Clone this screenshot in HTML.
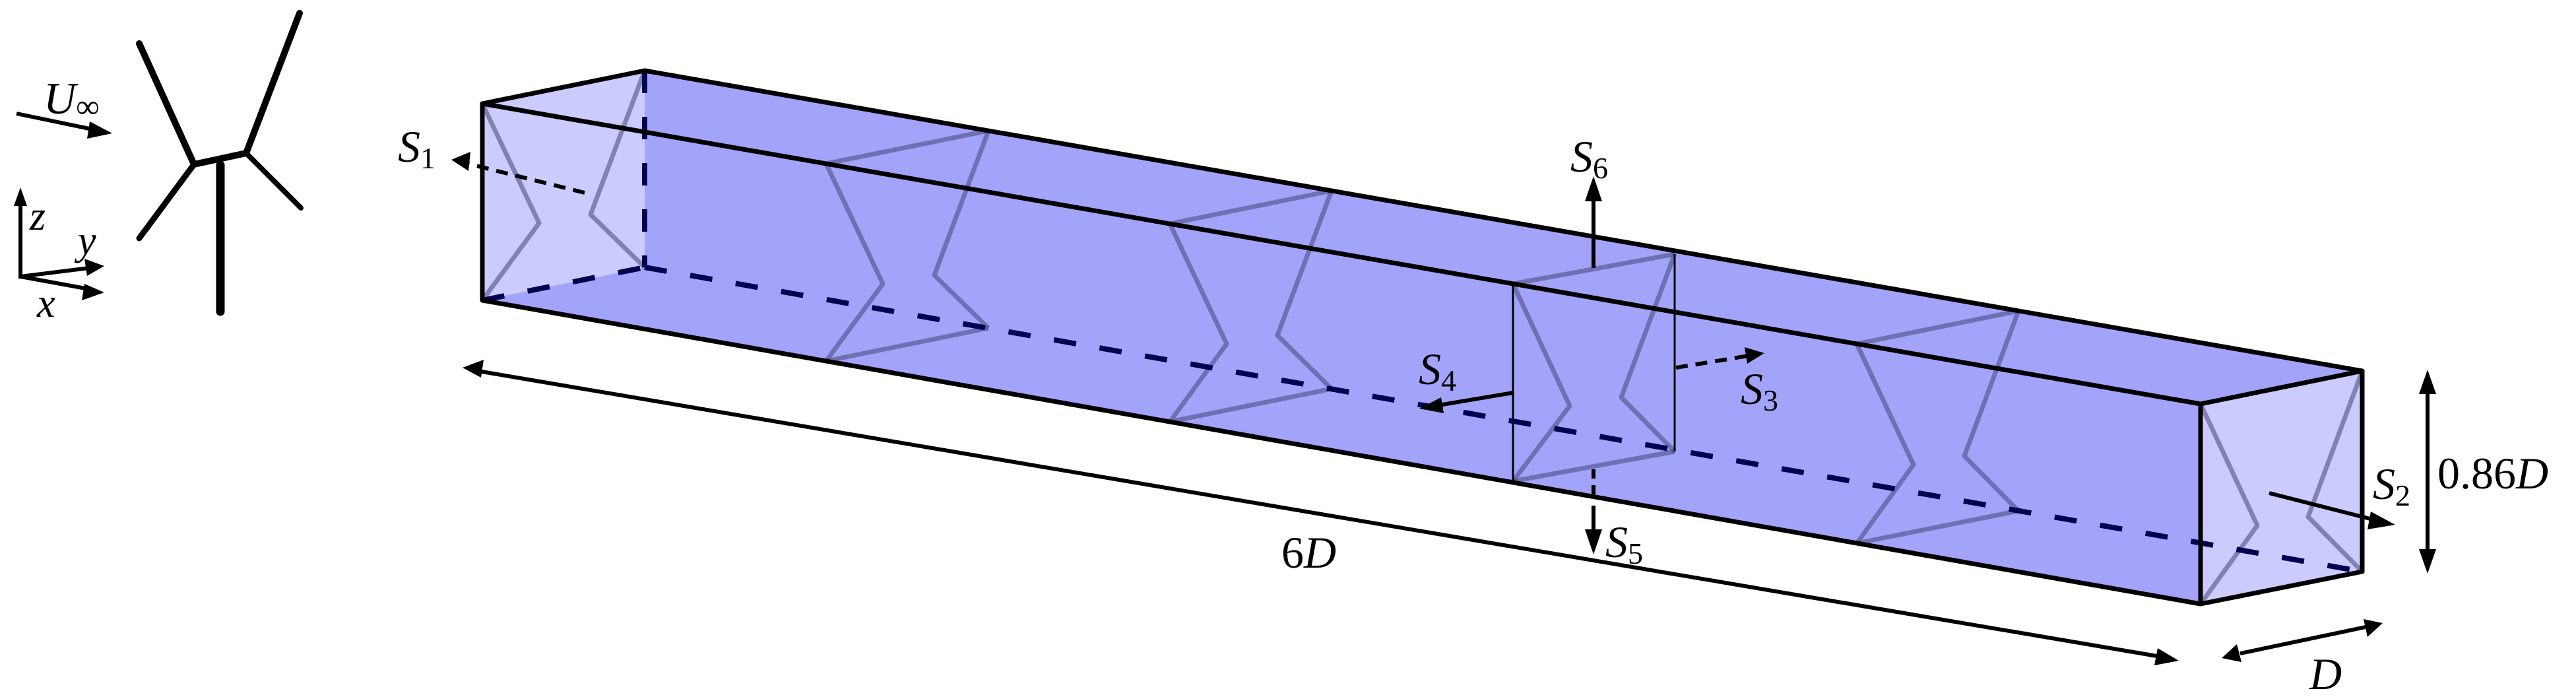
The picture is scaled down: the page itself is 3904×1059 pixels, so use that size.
<!DOCTYPE html>
<html><head><style>
html,body{margin:0;padding:0;background:#fff;}
svg{display:block;}
text{font-family:"Liberation Serif",serif;font-style:italic;fill:#000;}
.n{font-style:normal;}
</style></head><body>
<svg width="3904" height="1059" viewBox="0 0 3904 1059" xmlns="http://www.w3.org/2000/svg">
<!-- box fill -->
<polygon points="731,157 977,107 3580,562 3580,866 3335,915 731,455" fill="#a3a3fa"/>
<polygon points="731,157 977,107 977,405 731,455" fill="#cbcbfd"/>
<polygon points="3335,612 3580,562 3580,866 3335,915" fill="#cbcbfd"/>
<!-- slices -->
<g fill="none" stroke="rgba(70,70,120,0.55)" stroke-width="7" stroke-linejoin="round">
<polyline points="731,157 817,338 731,455"/><polyline points="977,107 895,325 977,405"/>
<polyline points="1252,248 1338,430 1252,547"/><polyline points="1498,198 1416,417 1498,497"/>
<line x1="1252" y1="248" x2="1498" y2="198"/><line x1="1252" y1="547" x2="1498" y2="497"/>
<polyline points="1773,339 1859,521 1773,639"/><polyline points="2018,289 1936,508 2018,589"/>
<line x1="1773" y1="339" x2="2018" y2="289"/><line x1="1773" y1="639" x2="2018" y2="589"/>
<polyline points="2293,430 2379,615 2293,729"/><polyline points="2538,385 2457,602 2538,684"/>
<line x1="2293" y1="430" x2="2538" y2="385"/><line x1="2293" y1="729" x2="2538" y2="684"/>
<polyline points="2814,521 2900,704 2814,823"/><polyline points="3059,471 2977,691 3059,774"/>
<line x1="2814" y1="521" x2="3059" y2="471"/><line x1="2814" y1="823" x2="3059" y2="774"/>
<polyline points="3335,612 3421,796 3335,915"/><polyline points="3580,562 3498,783 3580,866"/>
</g>
<line x1="2293" y1="430" x2="2293" y2="729" stroke="#000" stroke-width="3"/>
<line x1="2538" y1="385" x2="2538" y2="684" stroke="#000" stroke-width="3"/>
<!-- dashed hidden edges -->
<g stroke="#000050" stroke-width="8" stroke-dasharray="34,36" fill="none">
<line x1="977" y1="107" x2="977" y2="405"/>
<line x1="731" y1="455" x2="977" y2="405"/>
<line x1="977" y1="405" x2="3580" y2="866"/>
</g>
<!-- solid edges -->
<g stroke="#000" stroke-width="7" fill="none" stroke-linecap="round" stroke-linejoin="round">
<polyline points="731,455 731,157 977,107 3580,562 3580,866 3335,915 731,455"/>
<polyline points="731,157 3335,612 3580,562"/>
<line x1="3335" y1="612" x2="3335" y2="915"/>
</g>
<!-- arrows -->
<g stroke="#000" stroke-width="6" fill="none">
<line x1="886" y1="292" x2="705" y2="247" stroke-dasharray="18,12"/>
<line x1="2415" y1="406" x2="2415" y2="300"/>
<line x1="2415" y1="711" x2="2415" y2="751" stroke-dasharray="14,10"/>
<line x1="2415" y1="766" x2="2415" y2="810"/>
<line x1="2293" y1="595" x2="2180" y2="614"/>
<line x1="2540" y1="557" x2="2650" y2="539" stroke-dasharray="18,12"/>
<line x1="3439" y1="747" x2="3600" y2="788"/>
<line x1="3679" y1="590" x2="3679" y2="840"/>
<line x1="3395" y1="990" x2="3585" y2="950"/>
<line x1="730" y1="563" x2="3275" y2="995"/>
<line x1="25" y1="172" x2="145" y2="197"/>
<polyline points="31,305 31,419 135,406"/>
<line x1="31" y1="419" x2="135" y2="438"/>
</g>
<g fill="#000">
<polygon points="684,242 713,230 710,259"/>
<polygon points="2415,267 2402,305 2428,305"/>
<polygon points="2415,840 2402,802 2428,802"/>
<polygon points="2151,619 2184,602 2188,626"/>
<polygon points="2674,535 2644,526 2648,551"/>
<polygon points="3630,795 3593,775 3588,802"/>
<polygon points="3679,560 3666,597 3692,597"/>
<polygon points="3679,869 3666,832 3692,832"/>
<polygon points="3367,997 3390,976 3397,1003"/>
<polygon points="3611,944 3588,965 3582,938"/>
<polygon points="701,557 733,545 729,572"/>
<polygon points="3302,1001 3270,982 3265,1008"/>
<polygon points="170,202 136,184 132,210"/>
<polygon points="31,284 21,312 41,312"/>
<polygon points="158,403 128,392 132,418"/>
<polygon points="158,443 128,430 124,455"/>
</g>
<!-- turbine -->
<g stroke="#000" stroke-linecap="round" fill="none">
<line x1="334" y1="250" x2="334" y2="472" stroke-width="13"/>
<polyline points="211,66 294,249 373,232 454,20" stroke-width="10" stroke-linejoin="round"/>
<line x1="294" y1="249" x2="211" y2="361" stroke-width="9"/>
<line x1="373" y1="232" x2="456" y2="315" stroke-width="8"/>
</g>
<!-- labels -->
<text x="603" y="245" font-size="68">S<tspan class="n" font-size="46" dy="10">1</tspan></text>
<text x="2380" y="260" font-size="68">S<tspan class="n" font-size="46" dy="10">6</tspan></text>
<text x="2150" y="582" font-size="68">S<tspan class="n" font-size="46" dy="10">4</tspan></text>
<text x="2638" y="612" font-size="68">S<tspan class="n" font-size="46" dy="10">3</tspan></text>
<text x="2433" y="844" font-size="68">S<tspan class="n" font-size="46" dy="10">5</tspan></text>
<text x="3596" y="756" font-size="68">S<tspan class="n" font-size="46" dy="10">2</tspan></text>
<text x="3694" y="740" font-size="68"><tspan class="n">0.86</tspan>D</text>
<text x="3500" y="1044" font-size="68">D</text>
<text x="1942" y="860" font-size="68"><tspan class="n">6</tspan>D</text>
<text x="66" y="172" font-size="68">U<tspan class="n" font-size="50" dy="6">∞</tspan></text>
<text x="45" y="348" font-size="62">z</text>
<text x="118" y="385" font-size="62">y</text>
<text x="56" y="480" font-size="62">x</text>
</svg>
</body></html>
